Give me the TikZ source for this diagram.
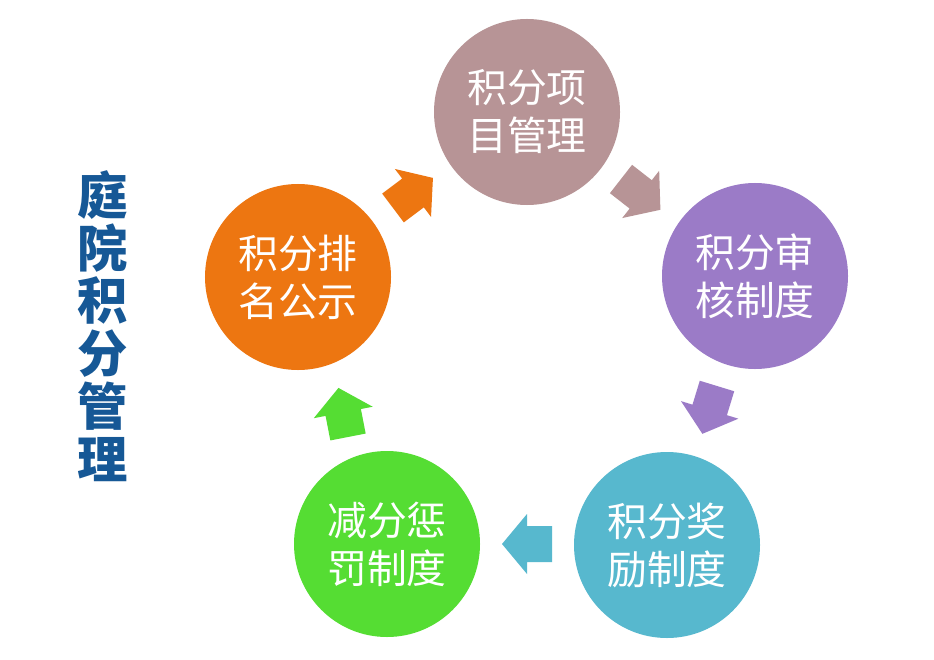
\documentclass[tikz,border=0pt]{standalone}
\usepackage{fontspec}
\newfontfamily\cjk{Noto Sans CJK SC}
\definecolor{cTop}{HTML}{B79496}
\definecolor{cRight}{HTML}{9B7BC7}
\definecolor{cBR}{HTML}{57B8CE}
\definecolor{cBL}{HTML}{55DD33}
\definecolor{cLeft}{HTML}{ED7611}
\definecolor{cTitle}{HTML}{165896}
\tikzset{
  circ/.style={circle, minimum size=5.58cm, inner sep=0pt, text=white, align=center,
    font=\cjk\fontsize{34pt}{41pt}\selectfont},
  blockarrow/.pic={\path[pic actions] (0,-18) -- (25,-18) -- (25,-30) -- (50,0) -- (25,30) -- (25,18) -- (0,18) -- cycle;}
}
\begin{document}
\begin{tikzpicture}[x=0.03cm, y=0.03cm]
\useasboundingbox[fill=white] (0,0) rectangle (934,659);
\node[circ, fill=cTop]   (top)   at (527,547) {积分项\\目管理};
\node[circ, fill=cRight] (right) at (755,383) {积分审\\核制度};
\node[circ, fill=cBR]    (br)    at (667,114) {积分奖\\励制度};
\node[circ, fill=cBL]    (bl)    at (387,115) {减分惩\\罚制度};
\node[circ, fill=cLeft]  (left)  at (298,382) {积分排\\名公示};
\pic[fill=cLeft, rotate=37]   at (393,451) {blockarrow};
\pic[fill=cTop, rotate=-38]   at (621,480) {blockarrow};
\pic[fill=cRight, rotate=-107] at (717,273) {blockarrow};
\pic[fill=cBR, rotate=180]    at (552,115) {blockarrow};
\pic[fill=cBL, rotate=101]    at (348,222) {blockarrow};
\node[text=cTitle, align=center, font=\cjk\bfseries\fontsize{43pt}{45pt}\selectfont] (title) at (103,333) {庭\\院\\积\\分\\管\\理};
\end{tikzpicture}
\end{document}
